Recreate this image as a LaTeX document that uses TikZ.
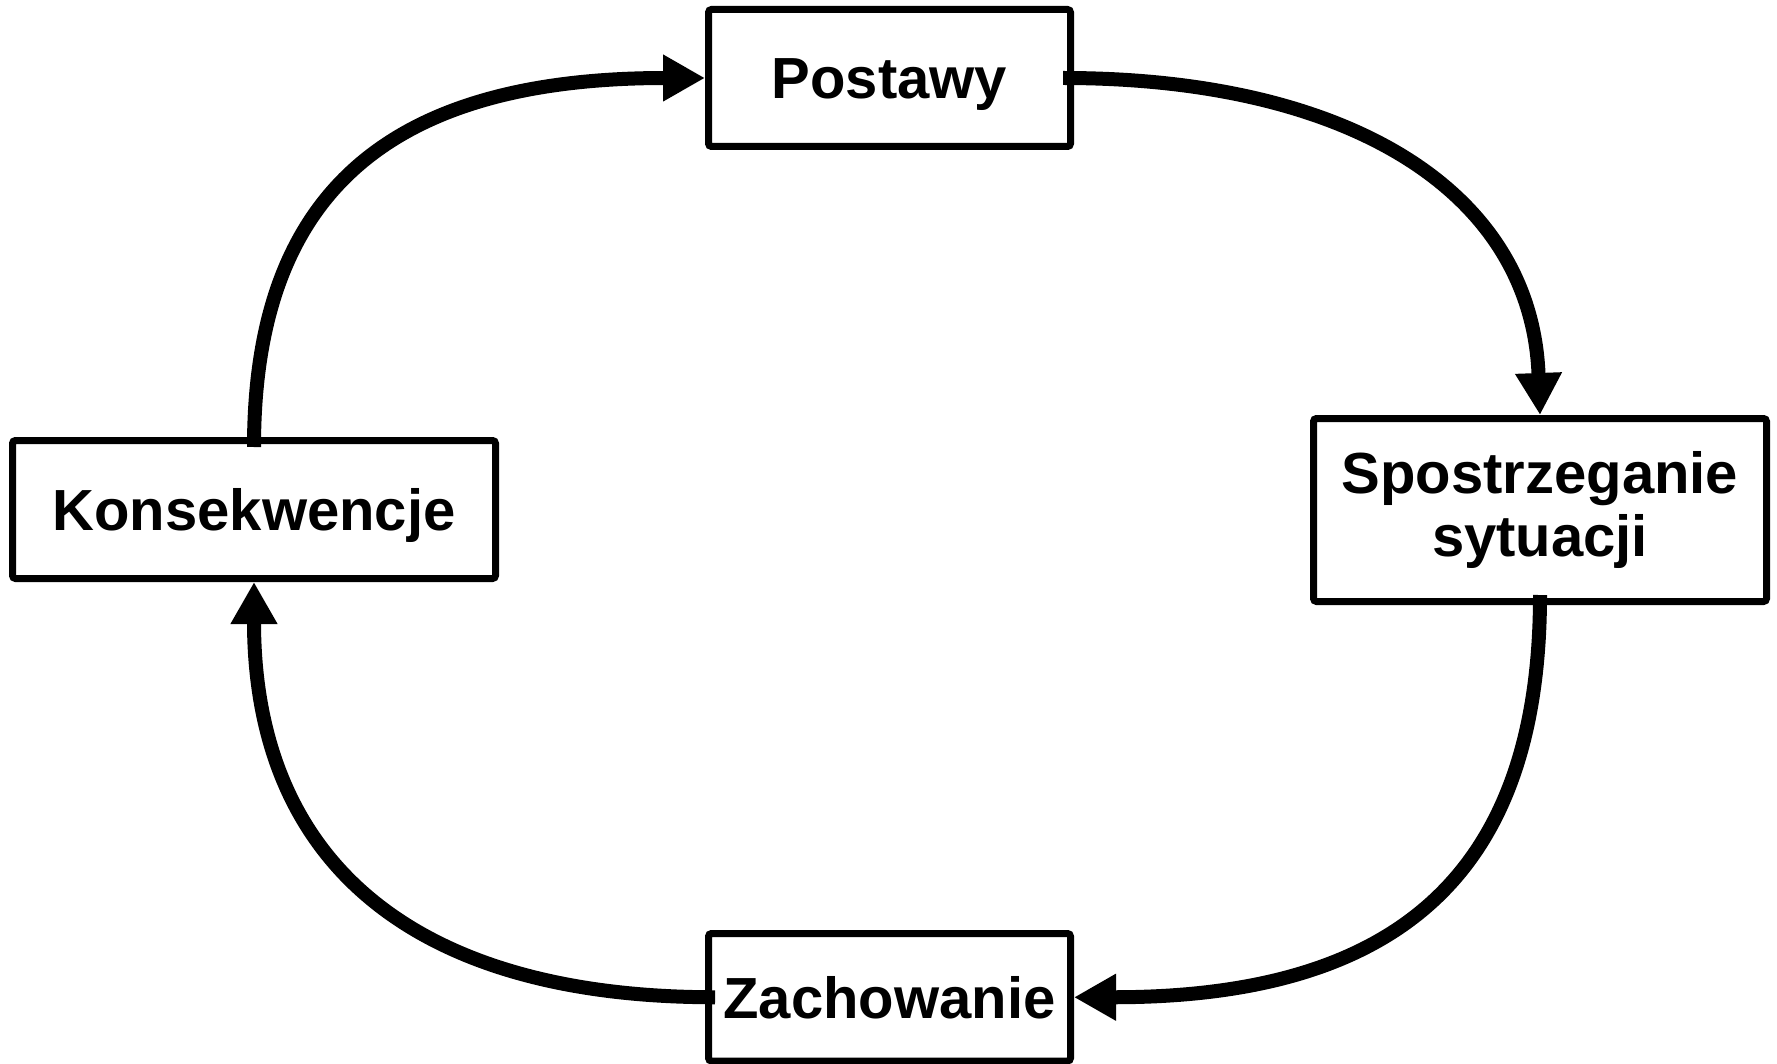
\documentclass[tikz,border=0pt]{standalone}
\usepackage{fontspec}
\setmainfont{Liberation Sans}
\usetikzlibrary{arrows.meta}
\begin{document}
\begin{tikzpicture}[x=0.5pt,y=-0.5pt,
  box/.style={draw, line width=3.5pt, rounded corners=1.5pt, inner sep=0pt,
    font=\fontsize{29}{31.5}\selectfont\bfseries, align=center},
  oneline/.style={text height=20.8pt, text depth=0pt},
  conn/.style={line width=7pt, -{Triangle[length=21pt,width=22pt]}}]
\useasboundingbox (0,0) rectangle (1777,1064);
\node[box, oneline, minimum width=181pt, minimum height=68.5pt] (p) at (889.5,78) {Postawy};
\node[box, minimum width=226.5pt, minimum height=91.5pt] (s) at (1540,510) {Spostrzeganie\\sytuacji};
\node[box, oneline, minimum width=241.5pt, minimum height=69pt] (k) at (254,509.5) {Konsekwencje};
\node[box, oneline, minimum width=181pt, minimum height=63.75pt] (z) at (889.5,997.25) {Zachowanie};
\draw[conn] ([yshift=-5pt]k.north) .. controls +(0,-254) and +(-316,0) .. (p.west);
\draw[conn] ([xshift=-5.5pt]p.east) .. controls +(287,0) and +(-8,-223) .. (s.north);
\draw[conn] ([yshift=5pt]s.south) .. controls +(0,276) and +(327,0) .. (z.east);
\draw[conn] ([xshift=5pt]z.west) .. controls +(-310,0) and +(0,273) .. (k.south);
\end{tikzpicture}
\end{document}
